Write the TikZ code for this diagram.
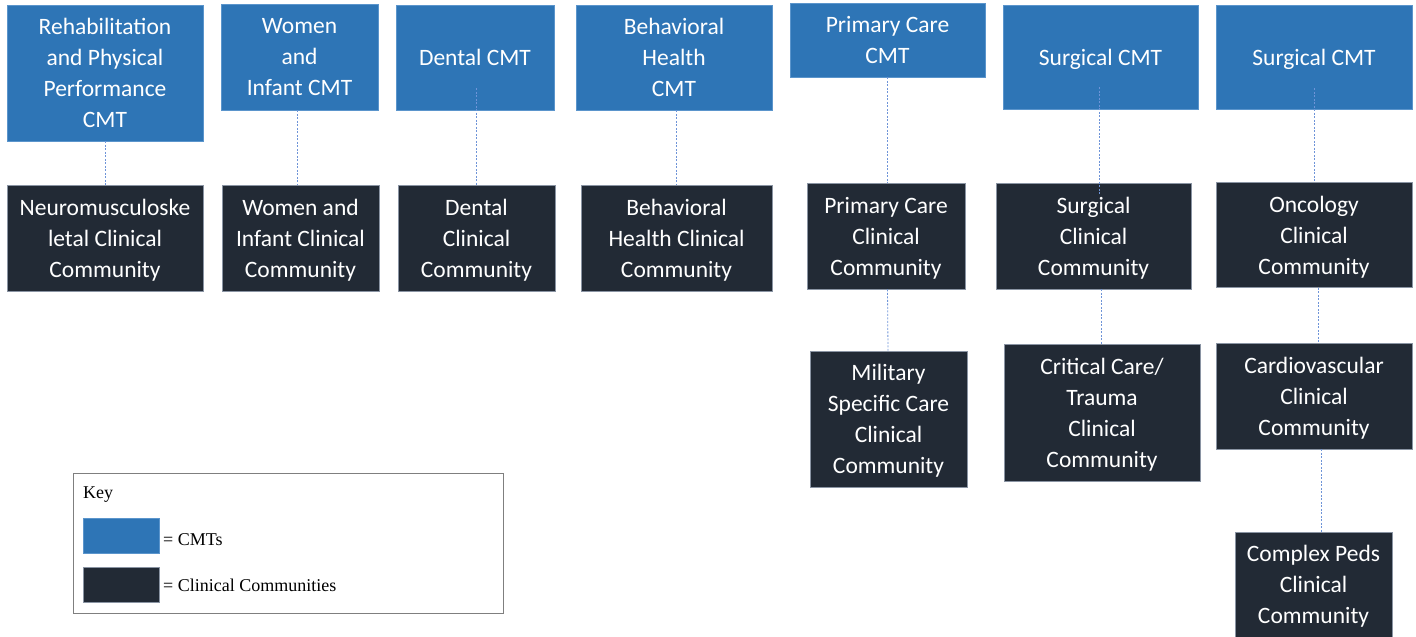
\documentclass[tikz,border=0pt]{standalone}
\usepackage{fontspec}
\setmainfont{Carlito}
\newfontfamily\keyfont{Liberation Serif}
\definecolor{cmtblue}{HTML}{2E75B6}
\definecolor{cmtedge}{HTML}{5B95CC}
\definecolor{ccdark}{HTML}{222A35}
\definecolor{ccedge}{HTML}{8A94A3}
\definecolor{linkblue}{HTML}{6E94D8}
\definecolor{keyedge}{HTML}{7F7F7F}
\begin{document}
\begin{tikzpicture}[x=1pt,y=-1pt,
  boxbase/.style={text=white, align=center, inner sep=0pt, line width=0.6pt,
    text depth=0pt, font=\fontsize{23.5}{31}\selectfont},
  cmt/.style={boxbase, fill=cmtblue, draw=cmtedge},
  cc/.style={boxbase, fill=ccdark, draw=ccedge},
  link/.style={draw=linkblue, dash pattern=on 2pt off 1.5pt, line width=0.8pt},
  keytext/.style={font=\keyfont\fontsize{18}{22}\selectfont, inner sep=0pt, anchor=base west}]
\useasboundingbox (0,0) rectangle (1416,637);
% top row: CMTs
\node[cmt, minimum width=196pt, minimum height=136pt] (t1) at (105,73) {Rehabilitation\\and Physical\\Performance\\CMT};
\node[cmt, minimum width=157pt, minimum height=106pt] (t2) at (299.5,57) {Women\\and\\Infant CMT};
\node[cmt, minimum width=158pt, minimum height=105pt] (t3) at (475,57.5) {Dental CMT};
\node[cmt, minimum width=196pt, minimum height=105pt] (t4) at (674,57.5) {Behavioral\\Health\\CMT};
\node[cmt, minimum width=195pt, minimum height=74pt] (t5) at (887.5,40) {Primary Care\\CMT};
\node[cmt, minimum width=195pt, minimum height=104pt] (t6) at (1100.5,57) {Surgical CMT};
\node[cmt, minimum width=196pt, minimum height=104pt] (t7) at (1314,57) {Surgical CMT};
% second row: clinical communities
\node[cc, minimum width=196pt, minimum height=106pt] (b1) at (105,238) {Neuromusculoske\\letal Clinical\\Community};
\node[cc, minimum width=157pt, minimum height=106pt] (b2) at (300.5,238) {Women and\\Infant Clinical\\Community};
\node[cc, minimum width=157pt, minimum height=106pt] (b3) at (476.5,238) {Dental\\Clinical\\Community};
\node[cc, minimum width=191pt, minimum height=106pt] (b4) at (676.5,238) {Behavioral\\Health Clinical\\Community};
\node[cc, minimum width=158pt, minimum height=106pt] (b5) at (886,236) {Primary Care\\Clinical\\Community};
\node[cc, minimum width=195pt, minimum height=106pt] (b6) at (1093.5,236) {Surgical\\Clinical\\Community};
\node[cc, minimum width=196pt, minimum height=105pt] (b7) at (1314,235) {Oncology\\Clinical\\Community};
% lower rows
\node[cc, minimum width=157pt, minimum height=136pt] (m5) at (888.5,419) {Military\\Specific Care\\Clinical\\Community};
\node[cc, minimum width=196pt, minimum height=137pt] (m6) at (1102,412.5) {Critical Care/\\Trauma\\Clinical\\Community};
\node[cc, minimum width=196pt, minimum height=106pt] (m7) at (1314,396) {Cardiovascular\\Clinical\\Community};
\node[cc, minimum width=157pt, minimum height=105pt] (p7) at (1313.5,584.5) {Complex Peds\\Clinical\\Community};
% connectors
\draw[link] (t1.south) -- (b1.north);
\draw[link] ([xshift=-2.5pt]t2.south) -- ([xshift=-3.5pt]b2.north);
\draw[link] ([xshift=1pt,yshift=22pt]t3.south) -- ([xshift=-0.5pt]b3.north);
\draw[link] ([xshift=2pt]t4.south) -- ([xshift=-0.5pt]b4.north);
\draw[link] ([xshift=-0.5pt]t5.south) -- ([xshift=1pt]b5.north);
\draw[link] ([xshift=1.5pt]b5.south) -- ([xshift=-0.5pt]m5.north);
\draw[link] ([xshift=-1.5pt,yshift=22pt]t6.south) -- ([xshift=5.5pt,yshift=-12pt]b6.north);
\draw[link] ([xshift=7.5pt]b6.south) -- ([xshift=-1pt]m6.north);
\draw[link] ([yshift=21pt]t7.south) -- (b7.north);
\draw[link] ([xshift=4pt]b7.south) -- ([xshift=4pt]m7.north);
\draw[link] ([xshift=7pt]m7.south) -- ([xshift=7.5pt]p7.north);
% key
\node[draw=keyedge, line width=1pt, minimum width=430pt, minimum height=140pt, inner sep=0pt] (key) at (288,543) {};
\node[keytext] (keylabel) at (83,498) {Key};
\node[fill=cmtblue, draw=cmtedge, line width=0.5pt, minimum width=76pt, minimum height=35pt, inner sep=0pt] (kcmt) at (121,535.5) {};
\node[fill=ccdark, draw=ccedge, line width=0.5pt, minimum width=76pt, minimum height=35pt, inner sep=0pt] (kcc) at (121,584.5) {};
\node[keytext] (kcmttext) at (163,545) {= CMTs};
\node[keytext] (kcctext) at (163,591) {= Clinical Communities};
\end{tikzpicture}
\end{document}
